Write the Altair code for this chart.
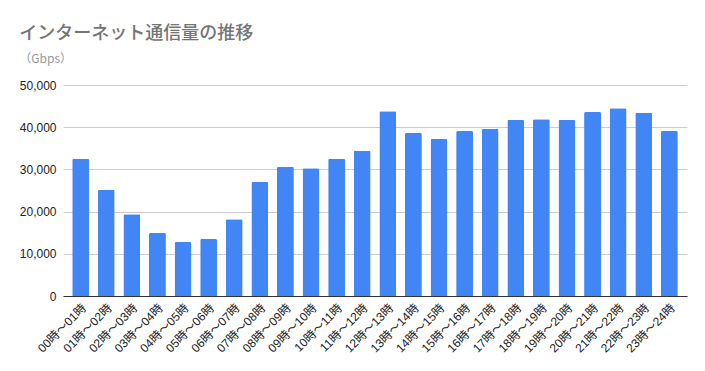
import altair as alt
import pandas as pd

hours = [f"{h:02d}時～{h+1:02d}時" for h in range(24)]
traffic = [32500, 25100, 19400, 14900, 12800, 13500, 18200, 27000, 30600, 30300,
           32500, 34400, 43800, 38600, 37200, 39100, 39600, 41700, 41900, 41700,
           43600, 44500, 43400, 39100]

df = pd.DataFrame({"hour": hours, "traffic": traffic})

FONT_JP = "Noto Sans CJK JP"
FONT = "Liberation Sans"
FONT_MIX = "Liberation Sans, Noto Sans CJK JP"

chart = alt.Chart(df).mark_bar(color="#4285F4", cornerRadiusTopLeft=1.5, cornerRadiusTopRight=1.5).encode(
    x=alt.X("hour:N", sort=hours, title=None,
            scale=alt.Scale(paddingInner=0.34, paddingOuter=0.36),
            axis=alt.Axis(labelAngle=-45, labelFont=FONT_MIX, labelFontSize=12, labelColor="#222222",
                          domainColor="#333333", domainWidth=1, ticks=False, labelPadding=6,
                          grid=False)),
    y=alt.Y("traffic:Q", title=None,
            scale=alt.Scale(domain=[0, 50000]),
            axis=alt.Axis(values=[0, 10000, 20000, 30000, 40000, 50000], format=",.0f",
                          labelFont=FONT, labelFontSize=12, labelColor="#222222",
                          domain=False, ticks=False, labelPadding=7,
                          gridColor="#cccccc", gridWidth=1)),
).properties(
    width=624,
    height=211,
    title=alt.TitleParams(
        text="インターネット通信量の推移",
        subtitle="（Gbps）",
        anchor="start",
        frame="bounds",
        dx=0,
        font=FONT_JP,
        fontSize=18,
        fontWeight=500,
        color="#757575",
        subtitleFont=FONT_JP,
        subtitleFontSize=12,
        subtitleColor="#999999",
        subtitlePadding=11,
        offset=14,
    ),
).configure_view(stroke=None).properties(padding={"left": 11, "top": 17, "right": 5, "bottom": 5})

chart.save("out.html", embed_options={"renderer": "svg", "actions": False})
